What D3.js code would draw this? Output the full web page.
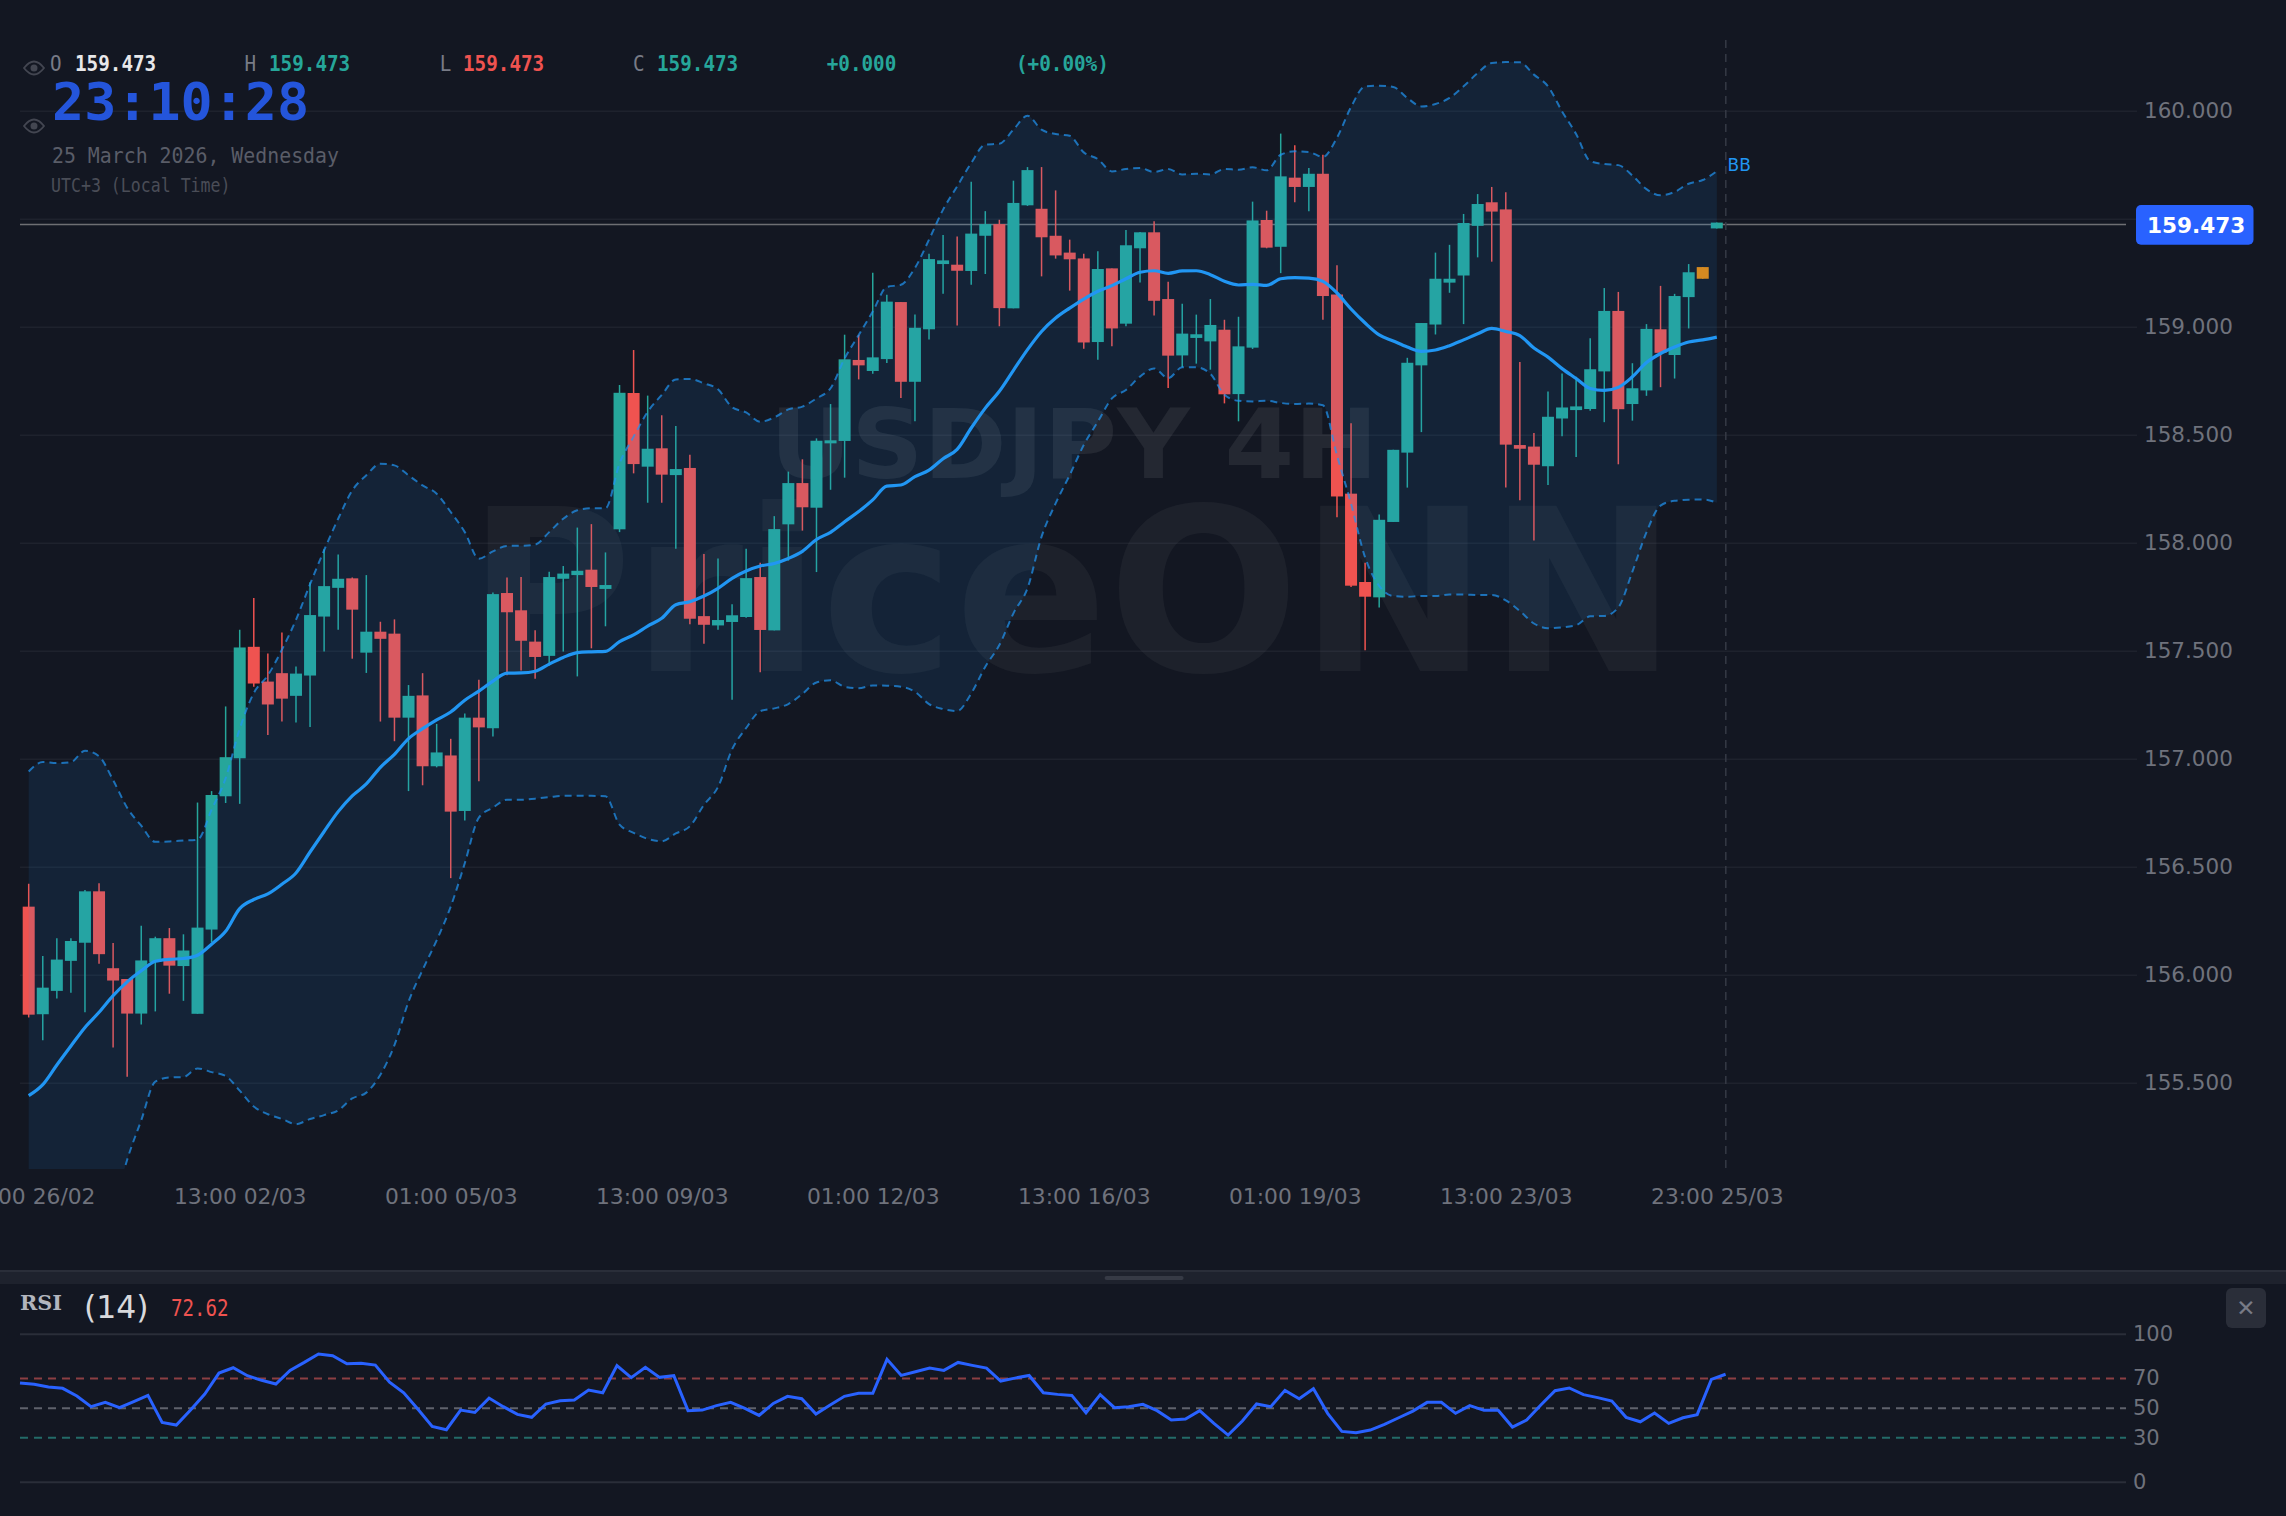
<!DOCTYPE html>
<html>
<head>
<meta charset="utf-8">
<title>USDJPY 4H</title>
<script src="https://cdn.jsdelivr.net/npm/d3@7"></script>
<style>
  html, body { margin: 0; padding: 0; background: #131722; overflow: hidden; }
  svg { display: block; }
  text { font-family: "DejaVu Sans", sans-serif; }
  .mono { font-family: "DejaVu Sans Mono", monospace; }
</style>
</head>
<body>
<div id="chart"></div>
<script>
// candles
const candleOpen = [156.315,155.817,155.925,156.064,156.148,156.386,156.03,155.98,155.82,156.059,156.169,156.04,155.819,156.209,156.826,157.002,157.518,157.357,157.396,157.291,157.385,157.658,157.791,157.835,157.491,157.588,157.579,157.19,157.293,156.965,157.015,156.758,157.19,157.141,157.767,157.687,157.542,157.476,157.833,157.85,157.875,157.786,158.062,158.693,158.352,158.437,158.313,158.346,157.66,157.617,157.633,157.656,157.841,157.594,158.085,158.276,158.162,158.46,158.471,158.846,158.795,158.85,159.114,158.745,158.988,159.29,159.287,159.258,159.421,159.475,159.085,159.562,159.546,159.421,159.343,159.316,158.929,159.27,159.014,159.363,159.437,159.128,158.867,158.948,158.932,158.986,158.688,158.903,159.494,159.37,159.69,159.647,159.708,159.149,158.227,157.818,157.747,158.096,158.417,158.821,159.01,159.204,159.237,159.467,159.576,159.543,158.452,158.445,158.354,158.575,158.614,158.619,158.793,159.073,158.642,158.705,158.988,158.869,159.137,159.222,159.455];
const candleHigh = [156.421,156.086,156.169,156.169,156.392,156.423,156.147,155.98,156.227,156.176,156.216,156.187,156.797,156.85,157.242,157.597,157.744,157.487,157.584,157.427,157.817,157.97,157.945,157.839,157.85,157.634,157.645,157.341,157.396,157.161,157.092,157.209,157.366,157.769,157.839,157.841,157.595,157.866,157.892,158.07,158.086,157.955,158.73,158.892,158.681,158.59,158.54,158.407,157.948,157.927,157.715,157.972,157.907,158.123,158.329,158.386,158.483,158.642,158.963,158.961,159.25,159.148,159.114,159.056,159.338,159.424,159.418,159.671,159.535,159.495,159.676,159.739,159.739,159.631,159.403,159.338,159.349,159.27,159.448,159.438,159.488,159.208,159.106,159.056,159.128,159.032,159.046,159.579,159.537,159.894,159.84,159.735,159.796,159.285,158.553,157.907,158.131,158.43,158.856,159.017,159.343,159.379,159.522,159.614,159.647,159.623,158.836,158.508,158.7,158.783,158.768,158.947,159.179,159.161,158.831,159.012,159.189,159.152,159.29,159.276,159.482];
const candleLow = [155.802,155.696,155.89,155.916,155.826,156.051,155.663,155.527,155.769,155.83,155.912,155.879,155.819,156.15,156.795,156.791,157.333,157.11,157.172,157.168,157.147,157.496,157.597,157.463,157.397,157.172,157.081,156.85,156.877,156.96,156.447,156.714,156.896,157.103,157.386,157.408,157.37,157.432,157.496,157.381,157.511,157.613,158.049,158.321,158.185,158.185,157.972,157.623,157.532,157.597,157.273,157.653,157.4,157.594,157.917,158.056,157.864,158.245,158.301,158.756,158.782,158.832,158.67,158.562,158.941,159.153,159.006,159.194,159.244,159.002,159.085,159.559,159.233,159.315,159.167,158.898,158.847,158.909,159.002,159.205,159.052,158.716,158.812,158.829,158.801,158.645,158.562,158.897,159.363,159.248,159.576,159.535,159.032,158.118,157.795,157.502,157.7,158.096,158.255,158.512,158.964,159.157,159.012,159.321,159.301,158.255,158.197,158.01,158.267,158.493,158.397,158.611,158.558,158.363,158.565,158.68,158.72,158.76,158.992,159.222,159.455];
const candleClose = [155.815,155.94,156.07,156.156,156.386,156.095,155.973,155.82,156.066,156.169,156.042,156.112,156.218,156.832,157.007,157.515,157.348,157.251,157.278,157.394,157.665,157.799,157.833,157.69,157.588,157.555,157.19,157.291,156.965,157.029,156.755,157.19,157.145,157.762,157.678,157.546,157.471,157.841,157.857,157.87,157.795,157.804,158.694,158.364,158.435,158.315,158.341,157.648,157.62,157.642,157.664,157.836,157.596,158.063,158.276,158.164,158.472,158.474,158.849,158.821,158.858,159.116,158.745,158.995,159.313,159.307,159.259,159.431,159.475,159.086,159.573,159.725,159.414,159.33,159.312,158.927,159.267,158.992,159.377,159.437,159.12,158.866,158.968,158.965,159.008,158.687,158.909,159.492,159.366,159.696,159.647,159.708,159.142,158.214,157.801,157.75,158.106,158.43,158.833,159.017,159.222,159.222,159.48,159.568,159.533,158.454,158.435,158.361,158.583,158.626,158.631,158.803,159.073,158.618,158.715,158.99,158.879,159.142,159.252,159.276,159.482];
const orangeCandle = 119; // the one candle drawn in orange

// bollinger bands
const bbUpper = [156.941,156.985,156.98,156.984,157.037,157.011,156.901,156.773,156.69,156.615,156.617,156.621,156.625,156.764,156.91,157.139,157.304,157.386,157.505,157.643,157.808,157.965,158.111,158.242,158.312,158.366,158.358,158.312,158.265,158.227,158.142,158.049,157.926,157.96,157.985,157.986,157.991,158.049,158.111,158.15,158.16,158.16,158.367,158.491,158.606,158.684,158.756,158.758,158.738,158.71,158.627,158.603,158.56,158.58,158.617,158.63,158.668,158.715,158.853,158.961,159.07,159.184,159.194,159.272,159.403,159.542,159.65,159.758,159.843,159.847,159.912,159.977,159.912,159.892,159.884,159.807,159.776,159.719,159.73,159.735,159.716,159.73,159.705,159.708,159.705,159.73,159.727,159.738,159.724,159.796,159.812,159.809,159.786,159.875,160.017,160.113,160.116,160.11,160.059,160.02,160.031,160.059,160.113,160.174,160.221,160.225,160.224,160.167,160.113,159.997,159.892,159.767,159.753,159.748,159.7,159.637,159.608,159.624,159.662,159.679,159.72];
const bbMiddle = [155.44,155.491,155.582,155.67,155.756,155.826,155.903,155.967,156.018,156.062,156.071,156.075,156.09,156.141,156.201,156.306,156.348,156.374,156.419,156.471,156.568,156.663,156.755,156.828,156.883,156.96,157.02,157.093,157.139,157.18,157.216,157.271,157.313,157.359,157.396,157.397,157.405,157.438,157.469,157.491,157.495,157.497,157.542,157.573,157.614,157.65,157.713,157.727,157.753,157.789,157.835,157.869,157.892,157.904,157.927,157.96,158.015,158.048,158.097,158.144,158.198,158.262,158.267,158.306,158.336,158.389,158.432,158.531,158.623,158.701,158.798,158.894,158.978,159.04,159.086,159.128,159.164,159.19,159.222,159.252,159.259,159.247,159.258,159.259,159.241,159.21,159.193,159.196,159.191,159.222,159.227,159.225,159.21,159.156,159.082,159.017,158.962,158.934,158.906,158.886,158.892,158.912,158.939,158.967,158.992,158.978,158.959,158.901,158.859,158.806,158.76,158.714,158.705,158.719,158.768,158.834,158.876,158.906,158.929,158.939,158.952];
const bbLower = [153.94,153.997,154.184,154.356,154.475,154.641,154.905,155.143,155.326,155.505,155.524,155.526,155.566,155.549,155.531,155.463,155.39,155.354,155.332,155.308,155.332,155.35,155.372,155.427,155.454,155.537,155.674,155.875,156.022,156.159,156.315,156.516,156.727,156.773,156.81,156.81,156.815,156.822,156.828,156.828,156.828,156.826,156.695,156.657,156.629,156.618,156.654,156.687,156.786,156.869,157.043,157.142,157.22,157.233,157.253,157.3,157.353,157.363,157.333,157.326,157.339,157.338,157.333,157.31,157.253,157.23,157.221,157.302,157.426,157.526,157.673,157.789,158.028,158.182,158.313,158.452,158.56,158.668,158.707,158.769,158.807,158.762,158.812,158.812,158.782,158.685,158.657,158.654,158.657,158.647,158.642,158.644,158.636,158.404,158.18,157.932,157.8,157.753,157.75,157.753,157.753,157.76,157.76,157.758,157.758,157.733,157.684,157.626,157.604,157.608,157.618,157.659,157.661,157.7,157.866,158.048,158.172,158.194,158.199,158.2,158.185];

const rsiValues = [66.7,65.8,64.0,63.1,57.9,50.7,53.6,50.0,54.1,58.3,40.1,38.3,48.4,59.2,73.4,77.0,71.6,68.5,66.0,75.2,80.6,86.3,85.1,79.7,80.0,78.8,67.3,60.1,48.9,37.4,35.1,48.4,46.8,56.5,50.7,45.5,43.5,52.5,54.7,55.2,61.9,60.1,78.4,70.3,77.3,70.5,71.6,48.0,48.4,51.4,53.6,49.5,44.8,52.9,57.7,56.1,45.7,51.8,57.7,59.7,59.7,82.7,71.8,74.3,76.8,75.2,80.6,78.6,76.8,68.0,70.0,71.8,60.1,59.0,58.3,46.6,58.8,50.0,50.7,52.3,48.0,41.7,42.3,48.0,39.4,31.5,41.0,52.5,50.7,61.7,56.1,62.8,46.2,34.0,33.1,34.9,38.7,43.2,47.7,53.6,53.6,46.2,51.4,48.2,48.2,36.9,41.7,51.8,61.5,63.3,58.8,56.8,54.5,43.5,40.5,46.4,39.4,43.2,45.3,69.1,72.62];

const priceTicks = [160, 159.5, 159, 158.5, 158, 157.5, 157, 156.5, 156, 155.5];
const timeTickIndex = [0, 15, 30, 45, 60, 75, 90, 105, 120];
const timeTickLabels = ["01:00 26/02", "13:00 02/03", "01:00 05/03", "13:00 09/03", "01:00 12/03", "13:00 16/03", "01:00 19/03", "13:00 23/03", "23:00 25/03"];
const rsiTicks = [100, 70, 50, 30, 0];
const lastPrice = 159.473;

const width = 2286, height = 1516;
const plotLeft = 20, plotRight = 2126, plotBottom = 1169;
const green = "#26a69a", red = "#ef5350", blue = "#2196f3";

const svg = d3.select("#chart").append("svg")
  .attr("width", width)
  .attr("height", height)
  .style("background", "#131722");

svg.append("clipPath").attr("id", "plotclip")
  .append("rect").attr("x", plotLeft).attr("y", 0)
  .attr("width", plotRight - plotLeft).attr("height", plotBottom);

const x = d3.scaleLinear().domain([0, 120]).range([28.7, 1716.8]);
const y = d3.scaleLinear().domain([160, 155]).range([110.7, 1190.7]);

// price grid + labels
const yAxis = svg.append("g")
  .attr("transform", `translate(${plotRight},0)`)
  .call(d3.axisRight(y).tickValues(priceTicks).tickFormat(d3.format(".3f"))
    .tickSizeInner(0).tickSizeOuter(0).tickPadding(18));
yAxis.select(".domain").remove();
yAxis.selectAll("text").attr("fill", "#6f727c").style("font-size", "21.5px");
yAxis.selectAll("line").attr("x1", plotLeft - plotRight).attr("x2", 11).attr("stroke", "#1e222d").attr("stroke-width", 1.5);
// the 159.500 label sits behind the price badge, only its grid line shows
yAxis.selectAll("text").filter(d => d === 159.5).remove();

// time labels
const xAxis = svg.append("g")
  .attr("transform", "translate(0,1184)")
  .call(d3.axisBottom(x).tickValues(timeTickIndex).tickFormat((d, i) => timeTickLabels[i])
    .tickSize(0).tickPadding(0));
xAxis.select(".domain").remove();
xAxis.selectAll("text").attr("fill", "#6f727c").style("font-size", "21.8px").attr("dy", "0.9em");

// watermarks
svg.append("text")
  .attr("x", 770).attr("y", 478)
  .attr("textLength", 608).attr("lengthAdjust", "spacingAndGlyphs")
  .style("font-size", "96px").style("font-weight", "bold")
  .attr("fill", "rgba(255,255,255,0.075)")
  .text("USDJPY 4H");
svg.append("text")
  .attr("x", 467).attr("y", 671)
  .attr("textLength", 1210).attr("lengthAdjust", "spacingAndGlyphs")
  .style("font-size", "226px").style("font-weight", "bold")
  .attr("fill", "rgba(255,255,255,0.045)")
  .text("PriceONN");

const plot = svg.append("g").attr("clip-path", "url(#plotclip)");

// last price line, then candles
plot.append("line")
  .attr("x1", plotLeft).attr("x2", plotRight)
  .attr("y1", y(lastPrice)).attr("y2", y(lastPrice))
  .attr("stroke", "#6e6f73").attr("stroke-width", 1.6);

const candles = d3.range(candleOpen.length).map(i => ({
  i, o: candleOpen[i], h: candleHigh[i], l: candleLow[i], c: candleClose[i]
}));
const candleColor = d => d.i === orangeCandle ? "#ea8a0a" : (d.c >= d.o ? green : red);

plot.selectAll(".wick").data(candles).enter().append("line")
  .attr("class", "wick")
  .attr("x1", d => x(d.i)).attr("x2", d => x(d.i))
  .attr("y1", d => y(d.h)).attr("y2", d => y(d.l))
  .attr("stroke", candleColor).attr("stroke-width", 1.5);

plot.selectAll(".body").data(candles).enter().append("rect")
  .attr("class", "body")
  .attr("x", d => x(d.i) - 6)
  .attr("width", 12)
  .attr("y", d => y(Math.max(d.o, d.c)))
  .attr("height", d => Math.abs(y(d.o) - y(d.c)))
  .attr("fill", candleColor);

// bands sit on top of the candles
const band = d3.area().x((d, i) => x(i)).y0((d, i) => y(bbLower[i])).y1(d => y(d)).curve(d3.curveMonotoneX);
const bandLine = d3.line().x((d, i) => x(i)).y(d => y(d)).curve(d3.curveMonotoneX);

plot.append("path").datum(bbUpper).attr("d", band).attr("fill", blue).attr("fill-opacity", 0.1);
[bbUpper, bbLower].forEach(series => {
  plot.append("path").datum(series).attr("d", bandLine)
    .attr("fill", "none").attr("stroke", blue).attr("stroke-opacity", 0.7)
    .attr("stroke-width", 2).attr("stroke-dasharray", "7,5");
});
plot.append("path").datum(bbMiddle).attr("d", bandLine)
  .attr("fill", "none").attr("stroke", blue).attr("stroke-width", 3.2);

// dashed line at the right end
svg.append("line")
  .attr("x1", 1725.8).attr("x2", 1725.8).attr("y1", 40).attr("y2", plotBottom)
  .attr("stroke", "#363a45").attr("stroke-width", 1.5).attr("stroke-dasharray", "8,6");

svg.append("text").attr("x", 1727.5).attr("y", 171)
  .attr("fill", blue).style("font-size", "17px").text("BB");

// price badge
svg.append("rect").attr("x", 2136).attr("y", 205).attr("width", 117.5).attr("height", 39.7)
  .attr("rx", 5).attr("fill", "#2962ff");
svg.append("text").attr("x", 2147).attr("y", 232.7)
  .attr("fill", "#fff").style("font-size", "21.6px").style("font-weight", "bold")
  .text(d3.format(".3f")(lastPrice));

// legend row
const legend = [
  ["O", 50, "#787b86", false], ["159.473", 75, "#e8e8ea", true],
  ["H", 244.6, "#787b86", false], ["159.473", 269, green, true],
  ["L", 439.7, "#787b86", false], ["159.473", 463, red, true],
  ["C", 633, "#787b86", false], ["159.473", 657, green, true],
  ["+0.000", 826.7, green, true], ["(+0.00%)", 1016, green, true]
];
svg.selectAll(".legend").data(legend).enter().append("text")
  .attr("class", "legend mono")
  .attr("x", d => d[1]).attr("y", 70.7)
  .attr("fill", d => d[2])
  .attr("textLength", d => d[0].length * 11.6).attr("lengthAdjust", "spacingAndGlyphs")
  .style("font-size", "21.5px")
  .style("font-weight", d => d[3] ? "bold" : "normal")
  .text(d => d[0]);

// eye icons
[68, 126].forEach(cy => {
  const eye = svg.append("g").attr("transform", `translate(34,${cy})`);
  eye.append("path").attr("d", "M-10,0 Q0,-13 10,0 Q0,13 -10,0Z")
    .attr("fill", "none").attr("stroke", "#434651").attr("stroke-width", 1.8);
  eye.append("circle").attr("r", 3.5).attr("fill", "#434651");
});

// clock
svg.append("text").attr("class", "mono")
  .attr("x", 52).attr("y", 120)
  .attr("textLength", 257).attr("lengthAdjust", "spacingAndGlyphs")
  .attr("fill", "#2455db").style("font-size", "52px").style("font-weight", "bold")
  .text("23:10:28");
svg.append("text").attr("class", "mono").attr("x", 52).attr("y", 163)
  .attr("textLength", 287).attr("lengthAdjust", "spacingAndGlyphs")
  .attr("fill", "#5a5d68").style("font-size", "21.5px").text("25 March 2026, Wednesday");
svg.append("text").attr("class", "mono").attr("x", 51).attr("y", 191.7)
  .attr("textLength", 179.5).attr("lengthAdjust", "spacingAndGlyphs")
  .attr("fill", "#4a4d57").style("font-size", "19px").text("UTC+3 (Local Time)");

// pane divider
svg.append("rect").attr("x", 0).attr("y", 1270).attr("width", width).attr("height", 2).attr("fill", "#2a2e39");
svg.append("rect").attr("x", 0).attr("y", 1272).attr("width", width).attr("height", 12).attr("fill", "#1e222d");
svg.append("rect").attr("x", 1104.6).attr("y", 1276).attr("width", 79).attr("height", 4).attr("rx", 2).attr("fill", "#363a45");

// RSI pane
const rsiX = d3.scaleLinear().domain([0, 120]).range([20, 1725.6]);
const rsiY = d3.scaleLinear().domain([0, 100]).range([1481.7, 1333.7]);

const rsiAxis = svg.append("g")
  .attr("transform", `translate(${plotRight},0)`)
  .call(d3.axisRight(rsiY).tickValues(rsiTicks).tickSizeInner(0).tickSizeOuter(0).tickPadding(7));
rsiAxis.select(".domain").remove();
rsiAxis.selectAll("text").attr("fill", "#6f727c").style("font-size", "21px");
rsiAxis.selectAll("line")
  .attr("x1", plotLeft - plotRight).attr("x2", 0)
  .attr("stroke-width", 2)
  .attr("stroke", d => d === 70 ? "#8c3f43" : d === 50 ? "#5f626c" : d === 30 ? "#236b68" : "#2a2e39")
  .attr("stroke-dasharray", d => (d === 0 || d === 100) ? null : "8,6");

svg.append("path").datum(rsiValues)
  .attr("d", d3.line().x((d, i) => rsiX(i)).y(d => rsiY(d)))
  .attr("fill", "none").attr("stroke", "#2962ff").attr("stroke-width", 3);

svg.append("text").attr("x", 20).attr("y", 1310)
  .attr("textLength", 42).attr("lengthAdjust", "spacingAndGlyphs")
  .attr("fill", "#b2b5be")
  .style("font-family", "'DejaVu Serif', serif").style("font-weight", "bold").style("font-size", "19.5px")
  .text("RSI");
svg.append("text").attr("x", 84).attr("y", 1318)
  .attr("fill", "#d8d9dc").style("font-size", "31.5px").text("(14)");
svg.append("text").attr("class", "mono").attr("x", 171).attr("y", 1316)
  .attr("textLength", 57.6).attr("lengthAdjust", "spacingAndGlyphs")
  .attr("fill", red).style("font-size", "22.5px").text(d3.format(".2f")(rsiValues[rsiValues.length - 1]));

// close button
svg.append("rect").attr("x", 2226).attr("y", 1288).attr("width", 40).attr("height", 40)
  .attr("rx", 6).attr("fill", "#2a2e39");
svg.append("text").attr("x", 2246).attr("y", 1316).attr("text-anchor", "middle")
  .attr("fill", "#787b86").style("font-size", "23px").text("✕");
</script>
</body>
</html>
